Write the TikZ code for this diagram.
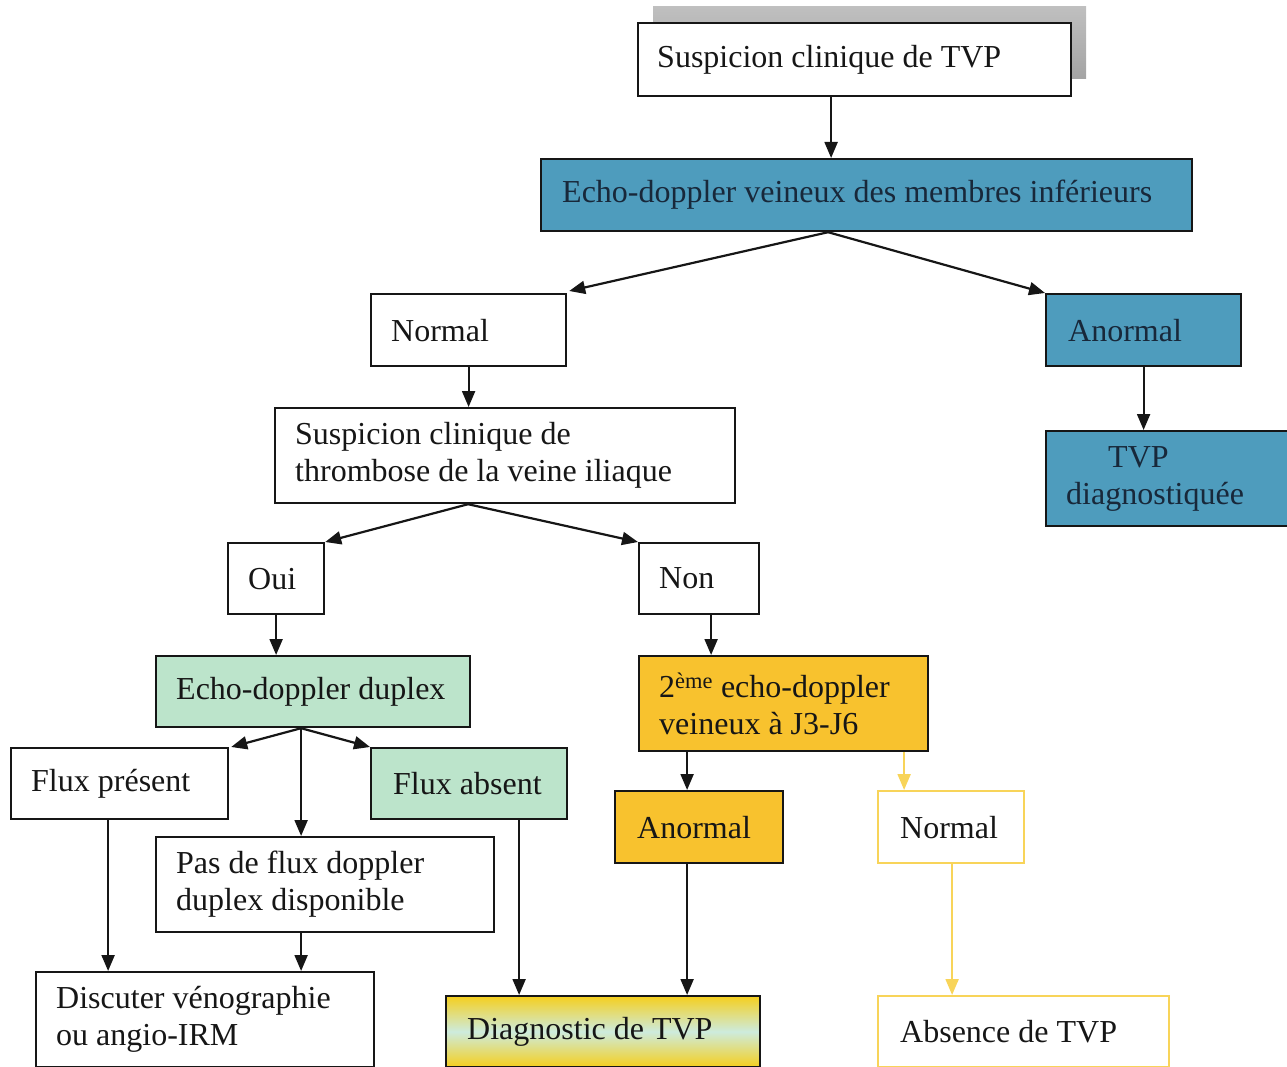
\documentclass[tikz,border=0pt]{standalone}
\usepackage{fontspec}
\setmainfont{Liberation Serif}
\usetikzlibrary{arrows.meta}
\definecolor{bluebox}{HTML}{4E9CBD}
\definecolor{greenbox}{HTML}{BCE4CB}
\definecolor{goldbox}{HTML}{F8C22E}
\definecolor{yelline}{HTML}{F8D459}
\definecolor{diagyel}{HTML}{F5CF1E}
\definecolor{diagmid}{HTML}{CDEBDD}
\definecolor{ink}{HTML}{161616}
\definecolor{navy}{HTML}{18283A}
\begin{document}
\begin{tikzpicture}[x=1pt,y=-1pt,
  box/.style={draw=ink, line width=2.2pt, anchor=north west, inner sep=0pt, fill=white},
  txt/.style={anchor=west, inner sep=0pt, align=left, text=ink, font=\fontsize{32}{37}\selectfont},
  arr/.style={draw=ink, line width=2.2pt, -{Triangle[length=16pt,width=13pt]}},
  yarr/.style={draw=yelline, line width=2.2pt, -{Triangle[length=16pt,width=13pt]}}
]
\useasboundingbox (0,0) rectangle (1287,1067);
% shadow of first box
\shade[top color=gray!50, bottom color=gray!72] (653,7) rectangle (1086,79);
% boxes
\node[box, minimum width=433pt, minimum height=73pt] (susp) at (637,22) {};
\node[txt] (tsusp) at ([xshift=20pt]susp.west) {Suspicion clinique de TVP};

\node[box, fill=bluebox, minimum width=651pt, minimum height=72pt] (echo) at (540,158) {};
\node[txt, text=navy] (techo) at ([xshift=22pt]echo.west) {Echo-doppler veineux des membres inférieurs};

\node[box, minimum width=195pt, minimum height=72pt] (norm1) at (370,293) {};
\node[txt] (tnorm1) at ([xshift=21pt]norm1.west) {Normal};

\node[box, fill=bluebox, minimum width=195pt, minimum height=72pt] (anorm1) at (1045,293) {};
\node[txt, text=navy] (tanorm1) at ([xshift=23pt]anorm1.west) {Anormal};

\node[box, fill=bluebox, minimum width=242pt, minimum height=95pt] (tvpd) at (1045,430) {};
\node[txt, text=navy] (ttvpd) at ([xshift=21pt]tvpd.west) {\hspace*{42pt}TVP\\diagnostiquée};

\node[box, minimum width=460pt, minimum height=95pt] (iliac) at (274,407) {};
\node[txt] (tiliac) at ([xshift=21pt]iliac.west) {Suspicion clinique de\\thrombose de la veine iliaque};

\node[box, minimum width=96pt, minimum height=71pt] (oui) at (227,542) {};
\node[txt] (toui) at ([xshift=21pt]oui.west) {Oui};

\node[box, minimum width=120pt, minimum height=71pt] (non) at (638,542) {};
\node[txt] (tnon) at ([xshift=21pt]non.west) {Non};

\node[box, fill=greenbox, minimum width=314pt, minimum height=71pt] (duplex) at (155,655) {};
\node[txt] (tduplex) at ([xshift=21pt]duplex.west) {Echo-doppler duplex};

\node[box, fill=goldbox, minimum width=289pt, minimum height=95pt] (second) at (638,655) {};
\node[txt] (tsecond) at ([xshift=21pt]second.west) {2\textsuperscript{ème} echo-doppler\\veineux à J3-J6};

\node[box, minimum width=217pt, minimum height=71pt] (fluxp) at (10,747) {};
\node[txt] (tfluxp) at ([xshift=21pt]fluxp.west) {Flux présent};

\node[box, fill=greenbox, minimum width=196pt, minimum height=71pt] (fluxa) at (370,747) {};
\node[txt] (tfluxa) at ([xshift=23pt]fluxa.west) {Flux absent};

\node[box, minimum width=338pt, minimum height=95pt] (pas) at (155,836) {};
\node[txt] (tpas) at ([xshift=21pt]pas.west) {Pas de flux doppler\\duplex disponible};

\node[box, fill=goldbox, minimum width=168pt, minimum height=72pt] (anorm2) at (614,790) {};
\node[txt] (tanorm2) at ([xshift=23pt]anorm2.west) {Anormal};

\node[box, draw=yelline, minimum width=146pt, minimum height=72pt] (norm2) at (877,790) {};
\node[txt] (tnorm2) at ([xshift=23pt]norm2.west) {Normal};

\node[box, minimum width=338pt, minimum height=95pt] (disc) at (35,971) {};
\node[txt] (tdisc) at ([xshift=21pt]disc.west) {Discuter vénographie\\ou angio-IRM};

\node[box, top color=diagyel, bottom color=diagyel, middle color=diagmid, minimum width=314pt, minimum height=71pt] (diag) at (445,995) {};
\node[txt] (tdiag) at ([xshift=22pt]diag.west) {Diagnostic de TVP};

\node[box, draw=yelline, minimum width=291pt, minimum height=71pt] (abs) at (877,995) {};
\node[txt] (tabs) at ([xshift=23pt]abs.west) {Absence de TVP};

% connectors
\draw[arr] ([xshift=-23.5pt]susp.south) -- ([xshift=-35.5pt]echo.north);
\draw[arr] ([xshift=-38.5pt]echo.south) -- ([xshift=2pt,yshift=2pt]norm1.north east);
\draw[arr] ([xshift=-38.5pt]echo.south) -- (anorm1.north west);
\draw[arr] (norm1.south) -- ([xshift=-36.5pt]iliac.north);
\draw[arr] (anorm1.south) -- ([xshift=-23.5pt]tvpd.north);
\draw[arr] ([xshift=-37pt]iliac.south) -- (oui.north east);
\draw[arr] ([xshift=-37pt]iliac.south) -- (non.north west);
\draw[arr] (oui.south) -- ([xshift=-37pt]duplex.north);
\draw[arr] ([xshift=12pt]non.south) -- ([xshift=-72.5pt]second.north);
\draw[arr] ([xshift=-12pt]duplex.south) -- ([xshift=2pt]fluxp.north east);
\draw[arr] ([xshift=-12pt]duplex.south) -- ([xshift=-24pt]pas.north);
\draw[arr] ([xshift=-12pt]duplex.south) -- (fluxa.north west);
\draw[arr] ([xshift=-11.5pt]fluxp.south) -- ([xshift=-97pt]disc.north);
\draw[arr] ([xshift=-24pt]pas.south) -- ([xshift=96pt]disc.north);
\draw[arr] ([xshift=50pt]fluxa.south) -- ([xshift=-84pt]diag.north);
\draw[arr] ([xshift=-96.5pt]second.south) -- ([xshift=-12pt]anorm2.north);
\draw[arr] ([xshift=-12pt]anorm2.south) -- ([xshift=84pt]diag.north);
\draw[yarr] ([xshift=120.5pt]second.south) -- ([xshift=-47pt]norm2.north);
\draw[yarr] ([xshift=1pt]norm2.south) -- ([xshift=-71.5pt]abs.north);
\end{tikzpicture}
\end{document}
